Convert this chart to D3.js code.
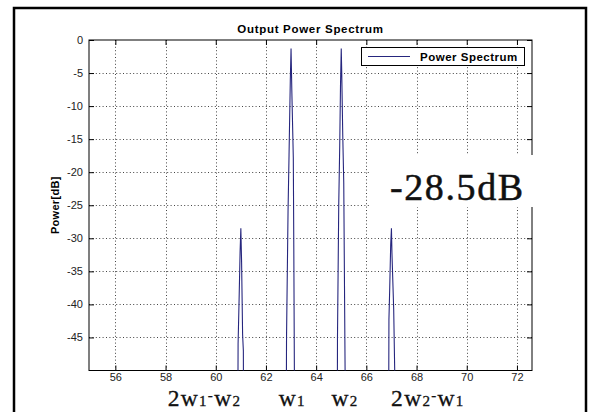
<!DOCTYPE html>
<html><head><meta charset="utf-8">
<script src="https://cdn.jsdelivr.net/npm/d3@7"></script>
<style>
html,body{margin:0;padding:0;background:#fff;}
svg{display:block;}
</style></head>
<body>
<svg id="chart" width="592" height="412"></svg>
<script>
// ---- data ----
const xTicks = [56, 58, 60, 62, 64, 66, 68, 70, 72];
const yTicks = [0, -5, -10, -15, -20, -25, -30, -35, -40, -45];
const xDomain = [54.95, 72.6];
const yDomain = [-50, 0];
// sampled spectrum (frequency, power in dB); -80 = far below the visible floor
const freq = [55, 60.86, 60.89, 60.93, 60.97, 61.0, 61.03, 61.07, 61.10, 61.12,
              62.79, 62.82, 62.88, 62.92, 62.97, 63.0, 63.03, 63.09, 63.11, 63.17,
              64.83, 64.85, 64.90, 64.94, 64.97, 65.0, 65.02, 65.06, 65.10, 65.21,
              66.87, 66.90, 66.93, 66.97, 67.0, 67.02, 67.09, 67.13, 67.14, 72.6];
const power = [-80, -80, -46, -39.3, -32, -28.5, -33.7, -44.6, -47, -80,
               -80, -45, -26, -17.4, -6.2, -1.3, -7.5, -17.8, -31.7, -80,
               -80, -45, -25, -15.9, -7, -1.3, -5, -14.4, -21.6, -80,
               -80, -42.3, -37.8, -31, -28.5, -32.2, -40.8, -50, -80, -80];
const title = "Output Power Spectrum";
const yLabel = "Power[dB]";
const legendLabel = "Power Spectrum";
const annotation = "-28.5dB";
// product labels under the axis (text pieces with their role) and anchor frequency
const productLabels = [
  {parts: [["2", "big"], ["w", "big"], ["1", "sub"], ["-", "dash"], ["w", "big"], ["2", "sub"]], f: 59.55},
  {parts: [["w", "big"], ["1", "sub"]], f: 63.05},
  {parts: [["w", "big"], ["2", "sub"]], f: 65.15},
  {parts: [["2", "big"], ["w", "big"], ["2", "sub"], ["-", "dash"], ["w", "big"], ["1", "sub"]], f: 68.45}
];

// ---- layout ----
const svg = d3.select("#chart");
const L = 89, R = 532, T = 40, B = 370.5;
const x = d3.scaleLinear().domain(xDomain).range([L, R]);
const y = d3.scaleLinear().domain(yDomain).range([B, T]);
const sans = "'Liberation Sans', Arial, Helvetica, sans-serif";
const serif = "'Liberation Serif', 'Times New Roman', serif";

// outer frame
svg.append("rect").attr("x", 14).attr("y", 8).attr("width", 572).attr("height", 420)
  .attr("fill", "#fff").attr("stroke", "#000").attr("stroke-width", 2.5);

// grid
const grid = svg.append("g").attr("stroke", "#444").attr("stroke-width", 1)
  .attr("stroke-dasharray", "1,2.4");
grid.selectAll("line.gx").data(xTicks).join("line")
  .attr("x1", d => Math.round(x(d)) + 0.5).attr("x2", d => Math.round(x(d)) + 0.5)
  .attr("y1", T).attr("y2", B);
grid.selectAll("line.gy").data(yTicks.filter(d => d !== 0)).join("line")
  .attr("y1", d => Math.round(y(d)) + 0.5).attr("y2", d => Math.round(y(d)) + 0.5)
  .attr("x1", L).attr("x2", R);

// axes (ticks inward, on all sides)
const tk = 5;
const axB = svg.append("g").attr("transform", `translate(0,${B})`)
  .call(d3.axisBottom(x).tickValues(xTicks).tickSize(-tk).tickPadding(3).tickSizeOuter(0));
const axT = svg.append("g").attr("transform", `translate(0,${T})`)
  .call(d3.axisTop(x).tickValues(xTicks).tickSize(-tk).tickFormat("").tickSizeOuter(0));
const axL = svg.append("g").attr("transform", `translate(${L},0)`)
  .call(d3.axisLeft(y).tickValues(yTicks).tickSize(-tk).tickPadding(6).tickSizeOuter(0)
    .tickFormat(d => String(d)));
const axR = svg.append("g").attr("transform", `translate(${R},0)`)
  .call(d3.axisRight(y).tickValues(yTicks).tickSize(-tk).tickFormat("").tickSizeOuter(0));
[axB, axT, axL, axR].forEach(a => {
  a.select(".domain").remove();
  a.selectAll("line").attr("stroke", "#000");
  a.selectAll("text").attr("font-family", sans).attr("font-size", 11).attr("fill", "#222");
});
svg.append("rect").attr("x", L).attr("y", T).attr("width", R - L).attr("height", B - T)
  .attr("fill", "none").attr("stroke", "#000").attr("stroke-width", 1);

// spectrum line
svg.append("clipPath").attr("id", "clip").append("rect")
  .attr("x", L).attr("y", T).attr("width", R - L).attr("height", B - T);
const pts = freq.map((f, i) => [f, power[i]]);
svg.append("path").datum(pts).attr("clip-path", "url(#clip)")
  .attr("fill", "none").attr("stroke", "#26267e").attr("stroke-width", 1.1)
  .attr("d", d3.line().x(d => x(d[0])).y(d => y(d[1])));

// title & y label
svg.append("text").attr("x", (L + R) / 2).attr("y", 33).attr("text-anchor", "middle")
  .attr("font-family", sans).attr("font-weight", "bold").attr("font-size", 11.5)
  .attr("letter-spacing", 0.7).text(title);
svg.append("text").attr("transform", `translate(59,${(T + B) / 2}) rotate(-90)`)
  .attr("text-anchor", "middle").attr("font-family", sans).attr("font-weight", "bold")
  .attr("font-size", 11).attr("letter-spacing", 0.3).text(yLabel);

// legend
const lg = svg.append("g");
lg.append("rect").attr("x", 361.5).attr("y", 47.5).attr("width", 163).attr("height", 18)
  .attr("fill", "#fff").attr("stroke", "#000");
lg.append("line").attr("x1", 368).attr("x2", 410).attr("y1", 56.5).attr("y2", 56.5)
  .attr("stroke", "#26267e").attr("stroke-width", 1.1);
lg.append("text").attr("x", 420).attr("y", 60.5).attr("font-family", sans)
  .attr("font-weight", "bold").attr("font-size", 11.5).attr("letter-spacing", 0.5)
  .text(legendLabel);

// annotation box
svg.append("rect").attr("x", 369).attr("y", 155).attr("width", 176).attr("height", 52)
  .attr("fill", "#fff");
svg.append("text").attr("x", 390).attr("y", 200).attr("font-family", serif)
  .attr("font-size", 38).attr("letter-spacing", 1.6).attr("fill", "#111")
  .attr("stroke", "#111").attr("stroke-width", 0.5).text(annotation);

// product labels
const roleStyle = {big: {fs: 23.5, dy: 0}, sub: {fs: 15, dy: 0}, dash: {fs: 15, dy: -6}};
productLabels.forEach(p => {
  const t = svg.append("text").attr("x", x(p.f)).attr("y", 406).attr("text-anchor", "middle")
    .attr("font-family", serif).attr("fill", "#111").attr("letter-spacing", 1.3)
    .attr("stroke", "#111").attr("stroke-width", 0.3);
  let prev = 0;
  p.parts.forEach(([s, k]) => {
    const st = roleStyle[k];
    t.append("tspan").text(s).attr("font-size", st.fs).attr("dy", st.dy - prev);
    prev = st.dy;
  });
});
</script>
</body></html>
